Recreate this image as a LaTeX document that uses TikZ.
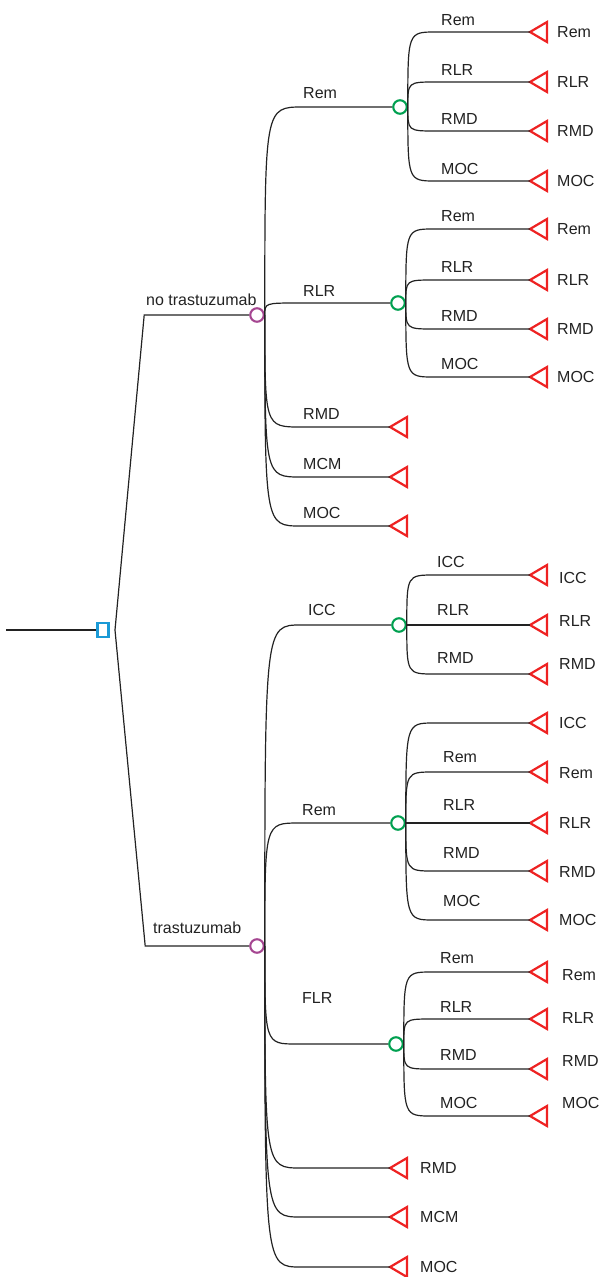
\documentclass[tikz,border=0pt]{standalone}
\usepackage{fontspec}
\setmainfont{Liberation Sans}
\usetikzlibrary{calc}
\definecolor{dgreen}{RGB}{0,160,80}
\definecolor{dpurple}{RGB}{165,70,145}
\definecolor{dblue}{RGB}{27,154,214}
\definecolor{tred}{RGB}{238,34,34}
\definecolor{ink}{RGB}{34,34,34}
\newcommand\termtri[3]{\coordinate (#1) at (#2,#3);
  \draw[termstyle] (#1) -- ++(17,-10) -- ++(0,20) -- cycle;}
\newcommand\brq[3]{\draw[ln] (#1.east) .. controls (#1.east |- #2) .. ($(#1.east |- #2)+(#3,0)$) -- (#2);}
\begin{document}
\begin{tikzpicture}[x=1pt,y=-1pt,
  ln/.style={draw=ink,line width=1.2pt},
  chance/.style={circle,draw,fill=white,line width=2.1pt,minimum size=13.5pt,inner sep=0pt},
  decis/.style={rectangle,draw=dblue,fill=white,line width=2.1pt,minimum width=11pt,minimum height=14pt,inner sep=0pt},
  termstyle/.style={draw=tred,line width=2.2pt,line join=miter},
  lbl/.style={inner sep=0pt,anchor=base west,text=ink,font=\fontsize{16}{19}\selectfont},
  rl/.style={inner sep=0pt,anchor=west,text=ink,font=\fontsize{16}{19}\selectfont}]
\useasboundingbox (0,0) rectangle (601,1277);

% decision node
\coordinate (r0) at (6,630);
\node[decis] (d) at (103,630) {};
\coordinate (dj) at (115,630);

% chance nodes
\node[chance,draw=dpurple] (p1) at (257,315) {};
\node[chance,draw=dpurple] (p2) at (257,946) {};
\node[chance,draw=dgreen] (g1) at (400,107) {};
\node[chance,draw=dgreen] (g2) at (398,303) {};
\node[chance,draw=dgreen] (g3) at (399,625) {};
\node[chance,draw=dgreen] (g4) at (398,823) {};
\node[chance,draw=dgreen] (g5) at (396,1044) {};

% terminals
\termtri{a1}{530}{32}
\termtri{a2}{530}{82}
\termtri{a3}{530}{131}
\termtri{a4}{530}{181}
\termtri{b1}{530}{229}
\termtri{b2}{530}{280}
\termtri{b3}{530}{329}
\termtri{b4}{530}{377}
\termtri{c1}{390}{427}
\termtri{c2}{390}{477}
\termtri{c3}{390}{526}
\termtri{e1}{530}{575}
\termtri{e2}{530}{625}
\termtri{e3}{530}{674}
\termtri{f1}{530}{723}
\termtri{f2}{530}{772}
\termtri{f3}{530}{823}
\termtri{f4}{530}{871}
\termtri{f5}{530}{920}
\termtri{h1}{530}{972}
\termtri{h2}{530}{1019}
\termtri{h3}{530}{1069}
\termtri{h4}{530}{1116}
\termtri{k1}{390}{1168}
\termtri{k2}{390}{1217}
\termtri{k3}{390}{1267}

% root connectors
\draw[ln] (r0) -- (d.west);
\draw[ln] (dj) -- ([xshift=-105pt]p1.west) -- (p1.west);
\draw[ln] (dj) -- ([xshift=-104pt]p2.west) -- (p2.west);

% first level branches
\brq{p1}{g1}{38}
\brq{p1}{g2}{34}
\brq{p1}{c1}{36}
\brq{p1}{c2}{36}
\brq{p1}{c3}{36}
\brq{p2}{g3}{36}
\brq{p2}{g4}{34}
\brq{p2}{g5}{32}
\brq{p2}{k1}{36}
\brq{p2}{k2}{36}
\brq{p2}{k3}{36}

% second level branches
\foreach \t in {a1,a2,a3,a4} {\brq{g1}{\t}{28}}
\foreach \t in {b1,b2,b3,b4} {\brq{g2}{\t}{28}}
\foreach \t in {e1,e2,e3} {\brq{g3}{\t}{28}}
\foreach \t in {f1,f2,f3,f4,f5} {\brq{g4}{\t}{28}}
\foreach \t in {h1,h2,h3,h4} {\brq{g5}{\t}{28}}

% labels
\node[lbl] (ln1) at (146,305) {no trastuzumab};
\node[lbl] (ln2) at (153,933) {trastuzumab};

\node[lbl] at (303,98) {Rem};
\node[lbl] at (303,296) {RLR};
\node[lbl] at (303,419) {RMD};
\node[lbl] at (303,469) {MCM};
\node[lbl] at (303,518) {MOC};
\node[lbl] at (308,615) {ICC};
\node[lbl] at (302,815) {Rem};
\node[lbl] at (302,1003) {FLR};

\node[lbl] at (441,25) {Rem};
\node[lbl] at (441,75) {RLR};
\node[lbl] at (441,124) {RMD};
\node[lbl] at (441,174) {MOC};
\node[lbl] at (441,221) {Rem};
\node[lbl] at (441,272) {RLR};
\node[lbl] at (441,321) {RMD};
\node[lbl] at (441,369) {MOC};

\node[lbl] at (437,567) {ICC};
\node[lbl] at (437,615) {RLR};
\node[lbl] at (437,663) {RMD};
\node[lbl] at (443,762) {Rem};
\node[lbl] at (443,810) {RLR};
\node[lbl] at (443,858) {RMD};
\node[lbl] at (443,906) {MOC};
\node[lbl] at (440,963) {Rem};
\node[lbl] at (440,1012) {RLR};
\node[lbl] at (440,1060) {RMD};
\node[lbl] at (440,1108) {MOC};

% right-hand labels
\node[rl] at (557,32) {Rem};
\node[rl] at (557,82) {RLR};
\node[rl] at (557,131) {RMD};
\node[rl] at (557,181) {MOC};
\node[rl] at (557,229) {Rem};
\node[rl] at (557,280) {RLR};
\node[rl] at (557,329) {RMD};
\node[rl] at (557,377) {MOC};
\node[rl] at (559,578) {ICC};
\node[rl] at (559,621) {RLR};
\node[rl] at (559,664) {RMD};
\node[rl] at (559,723) {ICC};
\node[rl] at (559,773) {Rem};
\node[rl] at (559,823) {RLR};
\node[rl] at (559,872) {RMD};
\node[rl] at (559,920) {MOC};
\node[rl] at (562,975) {Rem};
\node[rl] at (562,1018) {RLR};
\node[rl] at (562,1061) {RMD};
\node[rl] at (562,1103) {MOC};
\node[rl] at (420,1168) {RMD};
\node[rl] at (420,1217) {MCM};
\node[rl] at (420,1267) {MOC};
\end{tikzpicture}
\end{document}
